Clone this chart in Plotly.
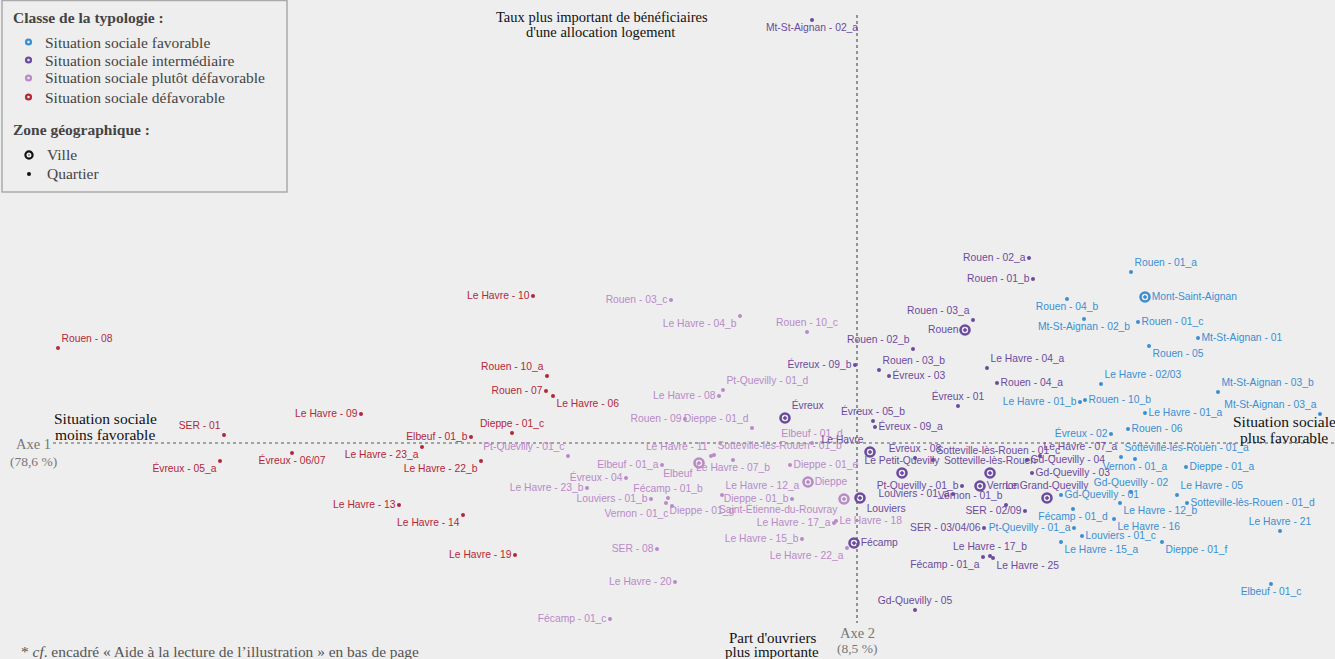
import plotly.graph_objects as go

# ---------------- DATA ----------------
# Situation sociale favorable (quartiers)
fav_names = ["Rouen - 01_a", "Rouen - 04_b", "Mt-St-Aignan - 02_b", "Rouen - 01_c", "Mt-St-Aignan - 01",
             "Rouen - 05", "Le Havre - 02/03", "Mt-St-Aignan - 03_b", "Rouen - 10_b", "Le Havre - 01_b",
             "Mt-St-Aignan - 03_a", "Le Havre - 01_a", "Rouen - 06", "Évreux - 02", "Sotteville-lès-Rouen - 01_a",
             "Vernon - 01_a", "Dieppe - 01_a", "Gd-Quevilly - 02", "Le Havre - 05", "Gd-Quevilly - 01",
             "Le Havre - 12_b", "Sotteville-lès-Rouen - 01_d", "Fécamp - 01_d", "Le Havre - 16", "Le Havre - 21",
             "Pt-Quevilly - 01_a", "Louviers - 01_c", "Le Havre - 15_a", "Dieppe - 01_f", "Elbeuf - 01_c"]
fav_x = [2.74, 2.10, 2.27, 2.81, 3.41, 2.92, 2.44, 3.61, 2.28, 2.23,
         4.63, 2.88, 2.71, 2.54, 2.64, 2.78, 3.29, 2.74, 3.20, 2.04,
         2.63, 3.30, 2.16, 2.57, 4.23, 2.17, 2.25, 2.04, 3.05, 4.14]
fav_y = [1.71, 1.44, 1.24, 1.21, 1.05, 0.97, 0.59, 0.51, 0.43, 0.41,
         0.29, 0.30, 0.14, 0.09, -0.14, -0.16, -0.24, -0.49, -0.52, -0.52,
         -0.60, -0.60, -0.66, -0.76, -0.88, -0.85, -0.93, -0.99, -0.99, -1.41]
# Situation sociale favorable (villes)
fav_v_names = ["Mont-Saint-Aignan"]
fav_v_x = [2.88]
fav_v_y = [1.46]

# Situation sociale intermédiaire (quartiers)
int_names = ["Mt-St-Aignan - 02_a", "Rouen - 02_a", "Rouen - 01_b", "Rouen - 03_a", "Rouen - 02_b",
             "Rouen - 03_b", "Évreux - 03", "Évreux - 09_b", "Le Havre - 04_a", "Rouen - 04_a",
             "Évreux - 01", "Évreux - 05_b", "Évreux - 09_a", "Évreux - 08", "Sotteville-lès-Rouen - 01_c",
             "Gd-Quevilly - 04", "Gd-Quevilly - 03", "Le Havre - 07_a", "Pt-Quevilly - 01_b", "Louviers - 01_a",
             "Vernon - 01_b", "SER - 02/09", "SER - 03/04/06", "Le Havre - 17_b", "Fécamp - 01_a",
             "Le Havre - 25", "Gd-Quevilly - 05"]
int_x = [-0.45, 1.72, 1.76, 1.16, 0.56, 0.22, 0.32, -0.02, 1.30, 1.40,
         1.01, 0.16, 0.18, 0.58, 0.76, 1.70, 1.75, 1.83, 1.05, 0.96,
         1.49, 1.68, 1.27, 1.33, 1.26, 1.36, 0.58]
int_y = [4.23, 1.85, 1.64, 1.23, 0.94, 0.73, 0.67, 0.78, 0.75, 0.60,
         0.37, 0.22, 0.16, -0.15, -0.17, -0.17, -0.30, -0.13, -0.43, -0.51,
         -0.62, -0.68, -0.85, -1.13, -1.14, -1.15, -1.67]
# Situation sociale intermédiaire (villes)
int_v_names = ["Rouen", "Évreux", "Le Havre", "Le Petit-Quevilly", "Sotteville-lès-Rouen",
               "Vernon", "Louviers", "Le Grand-Quevilly", "Fécamp"]
int_v_x = [1.08, -0.72, 0.13, 0.45, 1.33, 1.23, 0.03, 1.90, -0.03]
int_v_y = [1.13, 0.25, -0.09, -0.30, -0.30, -0.43, -0.55, -0.55, -1.00]

# Situation sociale plutôt défavorable (quartiers)
pdf_names = ["Rouen - 03_c", "Le Havre - 04_b", "Rouen - 10_c", "Pt-Quevilly - 01_d", "Le Havre - 08",
             "Rouen - 09", "Dieppe - 01_d", "Elbeuf - 01_d", "Pt-Quevilly - 01_c", "Le Havre - 11",
             "Sotteville-lès-Rouen - 01_b", "Le Havre - 07_b", "Elbeuf - 01_a", "Dieppe - 01_e", "Le Havre - 12_a",
             "Fécamp - 01_b", "Louviers - 01_b", "Dieppe - 01_g", "Vernon - 01_c", "Dieppe - 01_b",
             "Le Havre - 17_a", "Le Havre - 18", "Le Havre - 15_b", "Le Havre - 22_a", "SER - 08",
             "Le Havre - 20", "Fécamp - 01_c", "Évreux - 04", "Le Havre - 23_b"]
pdf_x = [-1.86, -1.17, -0.50, -1.34, -1.38, -1.72, -1.05, -0.45, -2.89, -1.46,
         -1.43, -1.24, -1.95, -0.67, -1.35, -1.89, -2.06, -1.91, -1.85, -0.65,
         -0.23, -0.21, -0.55, -0.10, -2.00, -1.82, -2.47, -2.31, -2.70]
pdf_y = [1.43, 1.27, 1.11, 0.53, 0.47, 0.24, 0.15, 0.00, -0.13, -0.13,
         -0.12, -0.17, -0.22, -0.22, -0.52, -0.55, -0.56, -0.60, -0.63, -0.56,
         -0.80, -0.78, -0.96, -1.05, -1.06, -1.39, -1.76, -0.35, -0.45]
# Situation sociale plutôt défavorable (villes)
pdf_v_names = ["Elbeuf", "Dieppe", "Saint-Étienne-du-Rouvray"]
pdf_v_x = [-1.58, -0.49, -0.13]
pdf_v_y = [-0.20, -0.39, -0.56]

# Situation sociale défavorable (quartiers)
def_names = ["Rouen - 08", "SER - 01", "Évreux - 05_a", "Évreux - 06/07", "Le Havre - 09",
             "Le Havre - 10", "Rouen - 10_a", "Rouen - 07", "Le Havre - 06", "Dieppe - 01_c",
             "Elbeuf - 01_b", "Le Havre - 23_a", "Le Havre - 22_b", "Le Havre - 13", "Le Havre - 14",
             "Le Havre - 19"]
def_x = [-7.99, -6.33, -6.37, -5.65, -4.96, -3.24, -3.10, -3.11, -3.04, -3.45,
         -3.86, -4.35, -3.76, -4.58, -3.94, -3.42]
def_y = [0.95, 0.08, -0.18, -0.10, 0.29, 1.47, 0.67, 0.52, 0.47, 0.10,
         0.06, -0.04, -0.18, -0.62, -0.72, -1.12]

class_labels = ["Situation sociale favorable", "Situation sociale intermédiaire",
                "Situation sociale plutôt défavorable", "Situation sociale défavorable"]
zone_labels = ["Ville", "Quartier"]

# ---------------- STYLE ----------------
COL = {"fav": "#3b8fd1", "int": "#6b4b9d", "pdf": "#b88ac8", "def": "#b2283a"}
BG = "#eeeeee"
LBL_FONT = "Liberation Sans Narrow, Arial Narrow, Liberation Sans, sans-serif"
SERIF = "Liberation Serif, Times New Roman, serif"
LBL_SIZE = 10.3

label_pos = {
    # favorable
    "Rouen - 01_a": "top right", "Rouen - 04_b": "bottom center", "Mt-St-Aignan - 02_b": "bottom center",
    "Rouen - 01_c": "middle right", "Mt-St-Aignan - 01": "middle right", "Rouen - 05": "bottom right",
    "Le Havre - 02/03": "top right", "Mt-St-Aignan - 03_b": "top right", "Rouen - 10_b": "middle right",
    "Le Havre - 01_b": "middle left", "Mt-St-Aignan - 03_a": "top left", "Le Havre - 01_a": "middle right",
    "Rouen - 06": "middle right", "Évreux - 02": "middle left", "Sotteville-lès-Rouen - 01_a": "top right",
    "Vernon - 01_a": "bottom center", "Dieppe - 01_a": "middle right", "Gd-Quevilly - 02": "top center",
    "Le Havre - 05": "top right", "Gd-Quevilly - 01": "middle right", "Le Havre - 12_b": "bottom right",
    "Sotteville-lès-Rouen - 01_d": "middle right", "Fécamp - 01_d": "bottom center",
    "Le Havre - 16": "bottom right", "Le Havre - 21": "top center", "Pt-Quevilly - 01_a": "middle left",
    "Louviers - 01_c": "middle right", "Le Havre - 15_a": "bottom right", "Dieppe - 01_f": "bottom right",
    "Elbeuf - 01_c": "bottom center", "Mont-Saint-Aignan": "middle right",
    # intermediaire
    "Mt-St-Aignan - 02_a": "bottom center", "Rouen - 02_a": "middle left", "Rouen - 01_b": "middle left",
    "Rouen - 03_a": "top left", "Rouen - 02_b": "top left", "Rouen - 03_b": "top right",
    "Évreux - 03": "middle right", "Évreux - 09_b": "middle left", "Le Havre - 04_a": "top right",
    "Rouen - 04_a": "middle right", "Évreux - 01": "top center", "Évreux - 05_b": "top center",
    "Évreux - 09_a": "middle right", "Évreux - 08": "top center", "Sotteville-lès-Rouen - 01_c": "top right",
    "Gd-Quevilly - 04": "middle right", "Gd-Quevilly - 03": "middle right", "Le Havre - 07_a": "top right",
    "Pt-Quevilly - 01_b": "middle left", "Louviers - 01_a": "middle left", "Vernon - 01_b": "top left",
    "SER - 02/09": "middle left", "SER - 03/04/06": "middle left", "Le Havre - 17_b": "top center",
    "Fécamp - 01_a": "bottom left", "Le Havre - 25": "bottom right", "Gd-Quevilly - 05": "top center",
    "Rouen": "middle left", "Évreux": "top right", "Le Havre": "top left", "Le Petit-Quevilly": "top center",
    "Sotteville-lès-Rouen": "top center", "Vernon": "middle right", "Louviers": "bottom right",
    "Le Grand-Quevilly": "top center", "Fécamp": "middle right",
    # plutot defavorable
    "Rouen - 03_c": "middle left", "Le Havre - 04_b": "bottom left", "Rouen - 10_c": "top center",
    "Pt-Quevilly - 01_d": "top right", "Le Havre - 08": "middle left", "Rouen - 09": "middle left",
    "Dieppe - 01_d": "top left", "Elbeuf - 01_d": "top center", "Pt-Quevilly - 01_c": "top left",
    "Le Havre - 11": "top left", "Sotteville-lès-Rouen - 01_b": "top right", "Le Havre - 07_b": "bottom center",
    "Elbeuf - 01_a": "middle left", "Dieppe - 01_e": "middle right", "Le Havre - 12_a": "top right",
    "Fécamp - 01_b": "top center", "Louviers - 01_b": "middle left", "Dieppe - 01_g": "bottom right",
    "Vernon - 01_c": "bottom left", "Dieppe - 01_b": "middle left", "Le Havre - 17_a": "middle left",
    "Le Havre - 18": "middle right", "Le Havre - 15_b": "middle left", "Le Havre - 22_a": "bottom left",
    "SER - 08": "middle left", "Le Havre - 20": "middle left", "Fécamp - 01_c": "middle left",
    "Évreux - 04": "middle left", "Le Havre - 23_b": "middle left",
    "Elbeuf": "bottom left", "Dieppe": "middle right", "Saint-Étienne-du-Rouvray": "bottom left",
    # defavorable
    "Rouen - 08": "top right", "SER - 01": "top left", "Évreux - 05_a": "bottom left",
    "Évreux - 06/07": "bottom center", "Le Havre - 09": "middle left", "Le Havre - 10": "middle left",
    "Rouen - 10_a": "top left", "Rouen - 07": "middle left", "Le Havre - 06": "bottom right",
    "Dieppe - 01_c": "top center", "Elbeuf - 01_b": "middle left", "Le Havre - 23_a": "bottom left",
    "Le Havre - 22_b": "bottom left", "Le Havre - 13": "middle left", "Le Havre - 14": "bottom left",
    "Le Havre - 19": "middle left",
}

fig = go.Figure()

def add_group(names, xs, ys, color, ville):
    if ville:
        marker = dict(symbol="circle-open-dot", size=9, color=color, line=dict(width=2.6, color=color))
    else:
        marker = dict(symbol="circle", size=4, color=color, line=dict(width=0))
    fig.add_trace(go.Scatter(
        x=xs, y=ys, text=names, mode="markers+text",
        textposition=[label_pos.get(n, "middle right") for n in names],
        textfont=dict(family=LBL_FONT, size=LBL_SIZE, color=color),
        marker=marker, showlegend=False, hoverinfo="text", cliponaxis=False))

add_group(def_names, def_x, def_y, COL["def"], False)
add_group(pdf_names, pdf_x, pdf_y, COL["pdf"], False)
add_group(pdf_v_names, pdf_v_x, pdf_v_y, COL["pdf"], True)
add_group(int_names, int_x, int_y, COL["int"], False)
add_group(int_v_names, int_v_x, int_v_y, COL["int"], True)
add_group(fav_names, fav_x, fav_y, COL["fav"], False)
add_group(fav_v_names, fav_v_x, fav_v_y, COL["fav"], True)

W, H = 1335, 659
def px(xp):
    return xp / W
def py(yp):
    return 1 - yp / H

ann = []
shapes = []
def note(text, xp, yp, size=15, color="#111", xanchor="center", family=SERIF):
    ann.append(dict(text=text, x=px(xp), y=py(yp), xref="paper", yref="paper", showarrow=False,
                    xanchor=xanchor, yanchor="middle", font=dict(family=family, size=size, color=color)))

def circle(cx, cy, r, fill, line_col=None, lw=0):
    shapes.append(dict(type="circle", xref="paper", yref="paper",
                       x0=px(cx - r), x1=px(cx + r), y0=py(cy + r), y1=py(cy - r),
                       fillcolor=fill, line=dict(color=line_col or fill, width=lw)))

# legend box (manual)
shapes.append(dict(type="rect", xref="paper", yref="paper", x0=px(2), x1=px(287), y0=py(192), y1=py(0.5),
                   line=dict(color="#aaaaaa", width=1.5), fillcolor="rgba(0,0,0,0)"))
note("<b>Classe de la typologie :</b>", 11, 18, 15.5, "#444", "left")
for lab, key, yy in zip(class_labels, ["fav", "int", "pdf", "def"], [42, 60, 78, 97]):
    circle(28.5, yy, 3.6, COL[key])
    circle(28.5, yy, 1.3, "#e8e8e8")
    note(lab, 43, yy, 15.5, "#444", "left")
note("<b>Zone géographique :</b>", 11, 129, 15.5, "#444", "left")
circle(29, 155, 3.6, "rgba(0,0,0,0)", "#111", 2.2)
circle(29, 155, 1.1, "#6a6")
note(zone_labels[0], 45, 155, 15.5, "#444", "left")
circle(29, 174, 2.0, "#111")
note(zone_labels[1], 45, 174, 15.5, "#444", "left")

note("Taux plus important de bénéficiaires", 602, 17, 14.5)
note("d'une allocation logement", 600, 32, 14.5)
note("Situation sociale", 105, 418, 15.5)
note("moins favorable", 105, 434, 15.5)
note("Axe 1", 33, 444, 14.5, "#777")
note("(78,6 %)", 33, 461, 13.5, "#777")
note("Situation sociale", 1284, 422, 15.5)
note("plus favorable", 1284, 437, 15.5)
note("Part d'ouvriers", 772, 638, 15)
note("plus importante", 772, 652, 15)
note("Axe 2", 857, 633, 14.5, "#777")
note("(8,5 %)", 857, 648, 13.5, "#777")
note("* <i>cf</i>. encadré « Aide à la lecture de l’illustration » en bas de page", 19, 651, 15.4, "#555", "left")

# axes (dotted)
shapes.append(dict(type="line", xref="x", yref="y", x0=-8.04, x1=4.78, y0=0, y1=0,
                   line=dict(color="#555", width=1.2, dash="dot"), layer="below"))
shapes.append(dict(type="line", xref="x", yref="y", x0=0, x1=0, y0=4.28, y1=-1.80,
                   line=dict(color="#555", width=1.2, dash="dot"), layer="below"))

fig.update_layout(
    width=W, height=H, margin=dict(l=0, r=0, t=0, b=0),
    paper_bgcolor=BG, plot_bgcolor=BG, showlegend=False,
    xaxis=dict(range=[-8.57, 4.78], visible=False, fixedrange=True),
    yaxis=dict(range=[-2.16, 4.43], visible=False, fixedrange=True),
    annotations=ann, shapes=shapes,
)

fig.write_html("out.html", config={"displayModeBar": False},
               post_script="document.body.style.margin='0px';document.body.style.backgroundColor='#eeeeee';")
